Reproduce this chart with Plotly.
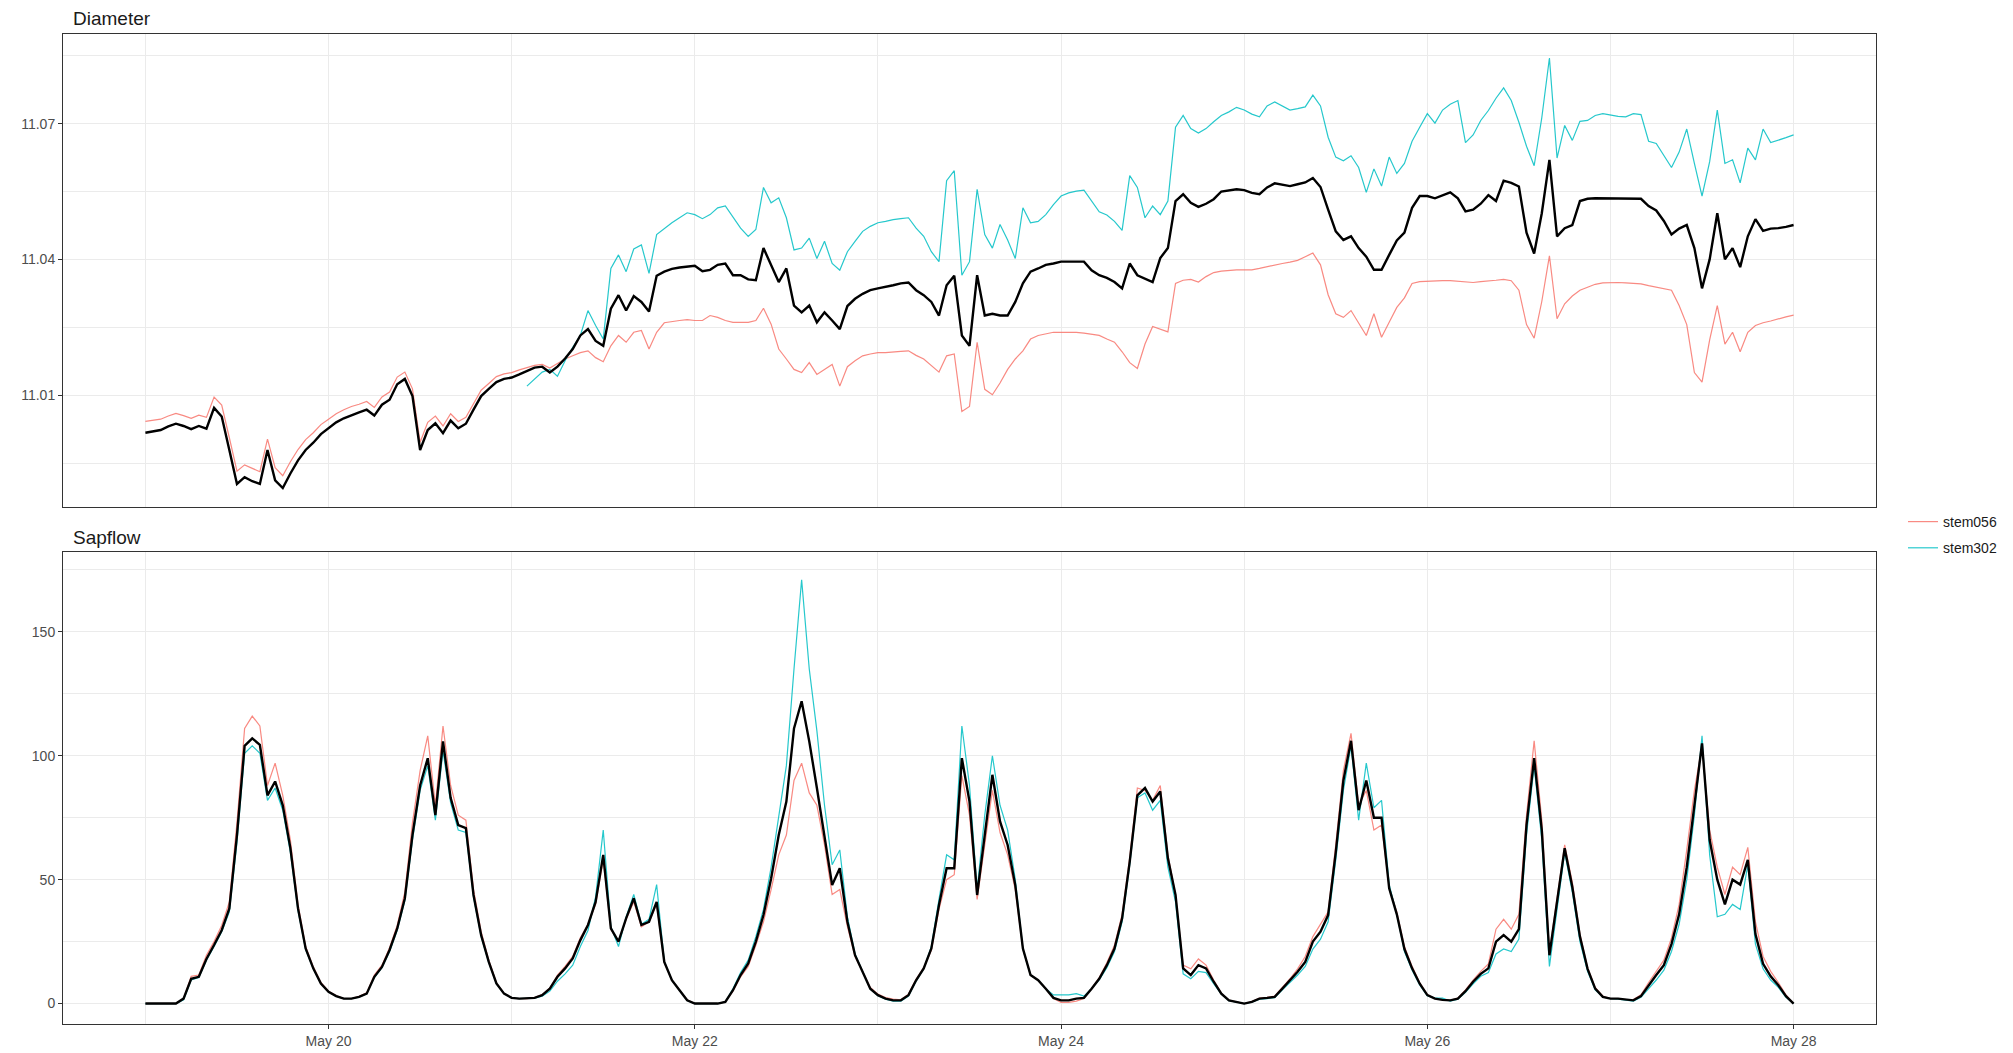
import pandas as pd
import plotly.graph_objects as go

# ---------------- data: hourly readings, 2019-05-19 00:00 .. 2019-05-28 00:00 ----------------
start_time = "2019-05-19 00:00"

diam_mean = [
    11.0017, 11.0020, 11.0023, 11.0031, 11.0037, 11.0032, 11.0025, 11.0032, 11.0026, 11.0072, 11.0053, 10.9979,
    10.9904, 10.9919, 10.9910, 10.9904, 10.9979, 10.9912, 10.9895, 10.9927, 10.9956, 10.9979, 10.9995, 11.0014,
    11.0027, 11.0040, 11.0049, 11.0056, 11.0062, 11.0068, 11.0055, 11.0079, 11.0090, 11.0124, 11.0136, 11.0098,
    10.9979, 11.0023, 11.0038, 11.0016, 11.0044, 11.0027, 11.0037, 11.0068, 11.0098, 11.0114, 11.0129, 11.0136,
    11.0139, 11.0146, 11.0153, 11.0161, 11.0163, 11.0150, 11.0163, 11.0181, 11.0202, 11.0232, 11.0246, 11.0220,
    11.0209, 11.0291, 11.0321, 11.0287, 11.0319, 11.0306, 11.0285, 11.0364, 11.0373, 11.0379, 11.0382, 11.0384,
    11.0386, 11.0374, 11.0377, 11.0388, 11.0391, 11.0365, 11.0365, 11.0356, 11.0354, 11.0425, 11.0388, 11.0350,
    11.0380, 11.0298, 11.0283, 11.0298, 11.0261, 11.0283, 11.0265, 11.0246, 11.0297, 11.0313, 11.0324, 11.0332,
    11.0336, 11.0339, 11.0343, 11.0347, 11.0349, 11.0332, 11.0321, 11.0306, 11.0276, 11.0343, 11.0364, 11.0232,
    11.0209, 11.0365, 11.0276, 11.0280, 11.0276, 11.0276, 11.0306, 11.0347, 11.0373, 11.0380, 11.0388, 11.0391,
    11.0395, 11.0395, 11.0395, 11.0395, 11.0376, 11.0365, 11.0359, 11.0350, 11.0336, 11.0391, 11.0365, 11.0358,
    11.0350, 11.0403, 11.0425, 11.0529, 11.0544, 11.0525, 11.0516, 11.0523, 11.0533, 11.0550, 11.0553, 11.0555,
    11.0553, 11.0547, 11.0544, 11.0559, 11.0568, 11.0565, 11.0562, 11.0566, 11.0570, 11.0580, 11.0560, 11.0510,
    11.0462, 11.0443, 11.0451, 11.0425, 11.0406, 11.0377, 11.0377, 11.0410, 11.0442, 11.0459, 11.0514, 11.0540,
    11.0540, 11.0535, 11.0542, 11.0548, 11.0535, 11.0506, 11.0510, 11.0523, 11.0542, 11.0529, 11.0574, 11.0569,
    11.0561, 11.0459, 11.0413, 11.0502, 11.0620, 11.0451, 11.0469, 11.0476, 11.0529, 11.0534, 11.0535, 11.0535,
    11.0535, 11.0535, 11.0535, 11.0535, 11.0534, 11.0518, 11.0508, 11.0485, 11.0455, 11.0468, 11.0476, 11.0425,
    11.0336, 11.0400, 11.0502, 11.0400, 11.0425, 11.0383, 11.0451, 11.0489, 11.0463, 11.0468, 11.0469, 11.0472,
    11.0476]

diam_stem056 = [
    11.0042, 11.0045, 11.0047, 11.0054, 11.0060, 11.0055, 11.0049, 11.0056, 11.0051, 11.0096, 11.0078, 11.0006,
    10.9932, 10.9946, 10.9938, 10.9931, 11.0003, 10.9940, 10.9922, 10.9953, 10.9980, 11.0002, 11.0017, 11.0035,
    11.0047, 11.0059, 11.0068, 11.0075, 11.0080, 11.0086, 11.0073, 11.0096, 11.0107, 11.0140, 11.0151, 11.0114,
    10.9996, 11.0040, 11.0054, 11.0032, 11.0059, 11.0042, 11.0051, 11.0082, 11.0111, 11.0126, 11.0141, 11.0147,
    11.0150, 11.0156, 11.0161, 11.0166, 11.0168, 11.0160, 11.0170, 11.0180, 11.0187, 11.0194, 11.0198, 11.0183,
    11.0174, 11.0209, 11.0232, 11.0217, 11.0239, 11.0243, 11.0202, 11.0239, 11.0260, 11.0263, 11.0265, 11.0267,
    11.0265, 11.0265, 11.0276, 11.0272, 11.0265, 11.0261, 11.0261, 11.0261, 11.0265, 11.0292, 11.0257, 11.0202,
    11.0180, 11.0157, 11.0150, 11.0172, 11.0146, 11.0157, 11.0168, 11.0120, 11.0163, 11.0176, 11.0187, 11.0191,
    11.0194, 11.0194, 11.0196, 11.0197, 11.0198, 11.0188, 11.0180, 11.0165, 11.0151, 11.0187, 11.0191, 11.0064,
    11.0075, 11.0217, 11.0113, 11.0101, 11.0127, 11.0157, 11.0180, 11.0198, 11.0224, 11.0232, 11.0235, 11.0239,
    11.0239, 11.0239, 11.0239, 11.0237, 11.0235, 11.0232, 11.0224, 11.0217, 11.0196, 11.0172, 11.0159, 11.0213,
    11.0252, 11.0246, 11.0240, 11.0347, 11.0354, 11.0356, 11.0350, 11.0362, 11.0371, 11.0374, 11.0376, 11.0377,
    11.0377, 11.0377, 11.0380, 11.0384, 11.0388, 11.0391, 11.0394, 11.0398, 11.0406, 11.0414, 11.0388, 11.0322,
    11.0280, 11.0272, 11.0287, 11.0261, 11.0232, 11.0280, 11.0228, 11.0261, 11.0294, 11.0315, 11.0347, 11.0351,
    11.0352, 11.0353, 11.0353, 11.0353, 11.0352, 11.0351, 11.0349, 11.0351, 11.0352, 11.0354, 11.0356, 11.0353,
    11.0332, 11.0256, 11.0226, 11.0307, 11.0408, 11.0269, 11.0302, 11.0319, 11.0332, 11.0339, 11.0345, 11.0348,
    11.0349, 11.0349, 11.0348, 11.0347, 11.0346, 11.0342, 11.0339, 11.0335, 11.0332, 11.0298, 11.0256, 11.0150,
    11.0129, 11.0222, 11.0298, 11.0213, 11.0239, 11.0196, 11.0239, 11.0254, 11.0260, 11.0264, 11.0269, 11.0273,
    11.0277]

diam_stem302 = [None] * 50 + [
                                                        11.0120, 11.0135, 11.0151, 11.0157, 11.0142, 11.0176,
    11.0206, 11.0232, 11.0287, 11.0254, 11.0224, 11.0380, 11.0410, 11.0373, 11.0423, 11.0432, 11.0369, 11.0455,
    11.0469, 11.0481, 11.0492, 11.0503,
    11.0499, 11.0490, 11.0499, 11.0514, 11.0518, 11.0492, 11.0469, 11.0451, 11.0466, 11.0559, 11.0525, 11.0536,
    11.0492, 11.0421, 11.0425, 11.0447, 11.0402, 11.0440, 11.0391, 11.0376, 11.0417, 11.0440, 11.0462, 11.0473,
    11.0481, 11.0484, 11.0488, 11.0490, 11.0492, 11.0469, 11.0451, 11.0417, 11.0395, 11.0574, 11.0596, 11.0365,
    11.0395, 11.0555, 11.0455, 11.0425, 11.0477, 11.0443, 11.0402, 11.0514, 11.0481, 11.0484, 11.0499, 11.0521,
    11.0540, 11.0547, 11.0551, 11.0553, 11.0529, 11.0505, 11.0498, 11.0484, 11.0464, 11.0585, 11.0559, 11.0492,
    11.0518, 11.0499, 11.0529, 11.0692, 11.0718, 11.0689, 11.0679, 11.0689, 11.0704, 11.0718, 11.0726, 11.0736,
    11.0730, 11.0721, 11.0715, 11.0739, 11.0748, 11.0739, 11.0730, 11.0733, 11.0737, 11.0763, 11.0739, 11.0670,
    11.0626, 11.0618, 11.0629, 11.0603, 11.0548, 11.0600, 11.0562, 11.0626, 11.0590, 11.0612, 11.0661, 11.0692,
    11.0722, 11.0701, 11.0730, 11.0743, 11.0751, 11.0658, 11.0675, 11.0707, 11.0729, 11.0756, 11.0779, 11.0751,
    11.0703, 11.0650, 11.0607, 11.0713, 11.0845, 11.0624, 11.0696, 11.0663, 11.0705, 11.0707, 11.0718, 11.0722,
    11.0719, 11.0716, 11.0715, 11.0722, 11.0720, 11.0661, 11.0656, 11.0629, 11.0603, 11.0637, 11.0688, 11.0612,
    11.0540, 11.0616, 11.0730, 11.0612, 11.0620, 11.0569, 11.0646, 11.0620, 11.0688, 11.0658, 11.0663, 11.0669,
    11.0675]

sap_mean = [
    0, 0, 0, 0, 0, 2, 10, 10.8, 18, 23.6, 29.6, 38.4, 68, 104, 107, 104.4, 84, 89.6, 80, 62.7, 38.4, 22.2, 14.2, 8.1,
    4.7, 3, 2, 2, 2.7, 4, 10.8, 14.8, 21.6, 30.3, 42.5, 68, 88, 99, 76, 105.8, 83, 72, 70.8, 43.8, 27.6, 16.8, 8.1, 4,
    2.3, 2, 2, 2.3, 3.4, 6, 10.8, 14.2, 18.2, 25.6, 31.7, 41, 60, 30.3, 25, 34.4, 42.5, 31.7, 33, 41, 16.8, 9.4, 5.4, 1.3,
    0, 0, 0, 0, 0.7, 5.4, 11.5, 16.2, 25, 35.7, 50.5, 68, 81.5, 111, 122, 105.8, 87, 68, 47.8, 54.6, 33, 19.5, 12.8, 6,
    3.4, 2, 1.3, 1.3, 3.4, 9.4, 14.2, 22.2, 39.8, 54.6, 54.6, 99, 81.5, 43.8, 68, 92.3, 73.5, 64, 47.8, 22.2, 11.5, 9.4, 6, 2.3,
    1.3, 1.3, 2, 2.3, 6, 10, 15.5, 22.2, 34.4, 57.3, 84, 87, 81.5, 85.6, 58.6, 43.8, 14.2, 11.5, 15.5, 14.2, 8.8, 4, 1.3, 0.7,
    0, 0.7, 2, 2.3, 2.7, 6, 9.4, 12.8, 16.8, 25, 29, 35.7, 61, 90, 106, 78, 90, 75, 75, 46.5, 36, 22, 14.2, 8,
    3.4, 2, 1.5, 1.3, 2, 5, 8.8, 12, 14.2, 25, 27.6, 25, 30, 72, 99, 70, 19.5, 41, 62.7, 47, 27, 14, 6, 2.7,
    2, 2, 1.5, 1.3, 3, 7.4, 11.5, 15.5, 24, 36, 55, 80, 105, 66, 50, 40, 50, 48, 58, 28, 16, 11, 7.4, 3,
    0]

sap_stem056 = [
    0, 0, 0, 0, 0, 2, 11, 11.5, 19.5, 25, 31.5, 41, 73, 111, 116, 112, 88, 97, 84, 66, 40, 23, 14.8, 8.5,
    5, 3.2, 2, 2, 2.9, 4.3, 11.5, 15.5, 22.5, 31.5, 45, 73, 94, 108, 80, 112, 88, 76, 74, 46, 29, 17.5, 8.4, 4.1,
    2.3, 2, 2, 2.4, 3.6, 6.3, 11.5, 15, 19, 26.5, 32, 40, 58, 30, 25, 34, 41, 31, 33, 40, 16.5, 9.4, 5.4, 1.5,
    0, 0, 0, 0, 0.7, 5, 10.8, 15, 23.5, 33, 46, 60, 68, 90, 97, 85, 80, 64, 44, 46, 31, 19, 12.8, 6.5,
    3.8, 2.4, 1.8, 1.5, 3.8, 9.8, 14.5, 21.5, 38, 50, 52, 92, 76, 42, 64, 86, 69, 60, 46, 22, 11.5, 9.4, 6, 2,
    0.5, 0.5, 1, 2, 6, 10.5, 16.5, 23.5, 36, 59, 87, 86, 82, 88, 60, 44, 15.5, 14, 18, 15.5, 9.5, 4.2, 1.4, 0.7,
    0, 0.8, 2.2, 2.5, 3, 6.5, 10, 14, 19, 27, 32, 37, 64, 94, 109, 80, 86, 70, 72, 47, 37, 23, 15, 8.5,
    3.6, 2, 1.5, 1.3, 2.2, 5.5, 9.5, 13, 16, 30, 34, 30, 36, 76, 106, 74, 21, 42, 64, 49, 28, 14.5, 6.5, 3,
    2, 2, 1.5, 1.6, 3.5, 8.5, 13, 17.5, 26.5, 40, 62, 86, 104, 70, 55, 44, 55, 52, 63, 33, 19, 13, 8.5, 3.5,
    0]

sap_stem302 = [
    0, 0, 0, 0, 0, 1.5, 9.5, 10.5, 17.5, 23, 29, 37, 65, 101, 104, 101, 82, 87, 78, 61, 37.5, 21.8, 14, 8,
    4.7, 3, 2, 2, 2.6, 3.9, 10.5, 14.5, 21, 29.5, 41.5, 66, 86, 96, 74, 102, 81, 70, 69, 43, 27, 16.5, 8, 4,
    2.3, 2, 2, 2.2, 3, 5, 9, 12, 15.5, 23, 29.5, 43, 70, 31, 23, 35, 44, 32, 34, 48, 17, 9.4, 5.3, 1.2,
    0, 0, 0, 0, 0.7, 6, 12.5, 17.5, 27, 38, 55, 76, 96, 135, 171, 135, 110, 80, 56, 62, 35, 20, 13, 5.8,
    3.2, 1.8, 1, 1, 3, 9, 14, 23, 42, 60, 58, 112, 88, 46, 76, 100, 80, 70, 50, 22, 11.5, 9.4, 6, 3.5,
    3.5, 3.5, 4, 3, 6, 9.5, 14.5, 21, 33, 56, 83, 85, 78, 82, 55, 41, 12, 10, 13, 12.5, 8, 3.8, 1.2, 0.6,
    0, 0.6, 1.8, 2, 2.4, 5.5, 8.5, 11.5, 15, 22, 26, 33, 58, 86, 104, 74, 97, 79, 82, 48, 36, 21, 13.5, 7.5,
    3.2, 2.2, 2.2, 1, 1.8, 4.5, 8, 11, 12.5, 20, 22, 21, 26, 68, 96, 66, 15, 38, 61, 45, 25, 13, 5.5, 2.7,
    2, 1.8, 1.3, 1, 2.5, 6, 9.5, 13.5, 21, 32, 50, 76, 108, 60, 35, 36, 40, 38, 56, 24, 14, 9.5, 6.5, 2.5,
    0]

series_names = ["stem056", "stem302"]
series_colors = ["#F8766D", "#00BFC4"]
panel_titles = ["Diameter", "Sapflow"]
x_tick_dates = ["2019-05-20", "2019-05-22", "2019-05-24", "2019-05-26", "2019-05-28"]
x_tick_labels = ["May 20", "May 22", "May 24", "May 26", "May 28"]
x_minor_dates = ["2019-05-19", "2019-05-21", "2019-05-23", "2019-05-25", "2019-05-27"]
diam_ticks = [11.01, 11.04, 11.07]
diam_minor = [10.995, 11.025, 11.055, 11.085]
sap_ticks = [0, 50, 100, 150]
sap_minor = [25, 75, 125, 175]

# ---------------- figure ----------------
n_points = max(len(diam_mean), len(sap_mean))
times = pd.date_range(start_time, periods=n_points, freq="h")
x_range = [times[0] - pd.Timedelta(hours=10.8), times[-1] + pd.Timedelta(hours=10.8)]

fig = go.Figure()


def add_line(vals, xa, ya, color, width, name=None, legend=False, opacity=1.0):
    fig.add_trace(go.Scatter(x=times[:len(vals)], y=vals, mode="lines", name=name, legendgroup=name,
                             line=dict(color=color, width=width), opacity=opacity,
                             xaxis=xa, yaxis=ya, showlegend=legend, connectgaps=False))


for vals, nm, col in zip([diam_stem056, diam_stem302], series_names, series_colors):
    add_line(vals, "x", "y", col, 1.2, nm, True, 0.85)
add_line(diam_mean, "x", "y", "black", 2.4)

for vals, nm, col in zip([sap_stem056, sap_stem302], series_names, series_colors):
    add_line(vals, "x2", "y2", col, 1.2, nm, False, 0.85)
add_line(sap_mean, "x2", "y2", "black", 2.4)

# the page body adds an 8px margin: the figure starts at (8, 8) and fills the window to its edge
W, H = 2005, 1045
OFF = 8
grid = "#EBEBEB"
border = "#333333"
font_family = "Liberation Sans, Arial, sans-serif"
tick_font = dict(size=14, color="#4D4D4D", family=font_family)


def fx(px):
    return (px - OFF) / W


def fy(py):
    return 1 - (py - OFF) / H


common_x = dict(type="date", range=x_range, showline=True, mirror=True, linecolor=border, linewidth=1,
                showgrid=True, gridcolor=grid, gridwidth=1.2, zeroline=False, automargin=False,
                tickvals=x_tick_dates, ticktext=x_tick_labels,
                minor=dict(tickvals=x_minor_dates, showgrid=True, gridcolor=grid, gridwidth=0.7, ticks=""))
common_y = dict(showline=True, mirror=True, linecolor=border, linewidth=1, showgrid=True,
                gridcolor=grid, gridwidth=1.2, zeroline=False, ticks="outside", ticklen=4,
                tickcolor=border, tickfont=tick_font, automargin=False)

fig.update_layout(
    width=W, height=H, paper_bgcolor="white", plot_bgcolor="white",
    margin=dict(l=0, r=0, t=0, b=0, autoexpand=False),
    font=dict(family=font_family),
    xaxis=dict(common_x, domain=[fx(63), fx(1876)], anchor="y", showticklabels=False, ticks=""),
    yaxis=dict(common_y, domain=[fy(507), fy(34)], anchor="x", range=[10.9853, 11.0898],
               tickvals=diam_ticks, ticktext=[f"{v:.2f}" for v in diam_ticks],
               minor=dict(tickvals=diam_minor, showgrid=True, gridcolor=grid, gridwidth=0.7, ticks="")),
    xaxis2=dict(common_x, domain=[fx(63), fx(1876)], anchor="y2", ticks="outside", ticklen=4,
                tickcolor=border, tickfont=tick_font),
    yaxis2=dict(common_y, domain=[fy(1024), fy(552)], anchor="x2", range=[-8.25, 182.2],
                tickvals=sap_ticks, ticktext=[str(v) for v in sap_ticks],
                minor=dict(tickvals=sap_minor, showgrid=True, gridcolor=grid, gridwidth=0.7, ticks="")),
    legend=dict(x=fx(1903), y=fy(535), xanchor="left", yanchor="middle",
                font=dict(size=14, color="#1A1A1A", family=font_family),
                bgcolor="rgba(0,0,0,0)", tracegroupgap=5, itemwidth=30),
    showlegend=True,
)

for title, ytop in zip(panel_titles, [18, 537]):
    fig.add_annotation(text=title, xref="paper", yref="paper", x=fx(71), y=fy(ytop),
                       xanchor="left", yanchor="middle", showarrow=False,
                       font=dict(size=19, color="#1A1A1A", family=font_family))

fig.write_html("out.html")
